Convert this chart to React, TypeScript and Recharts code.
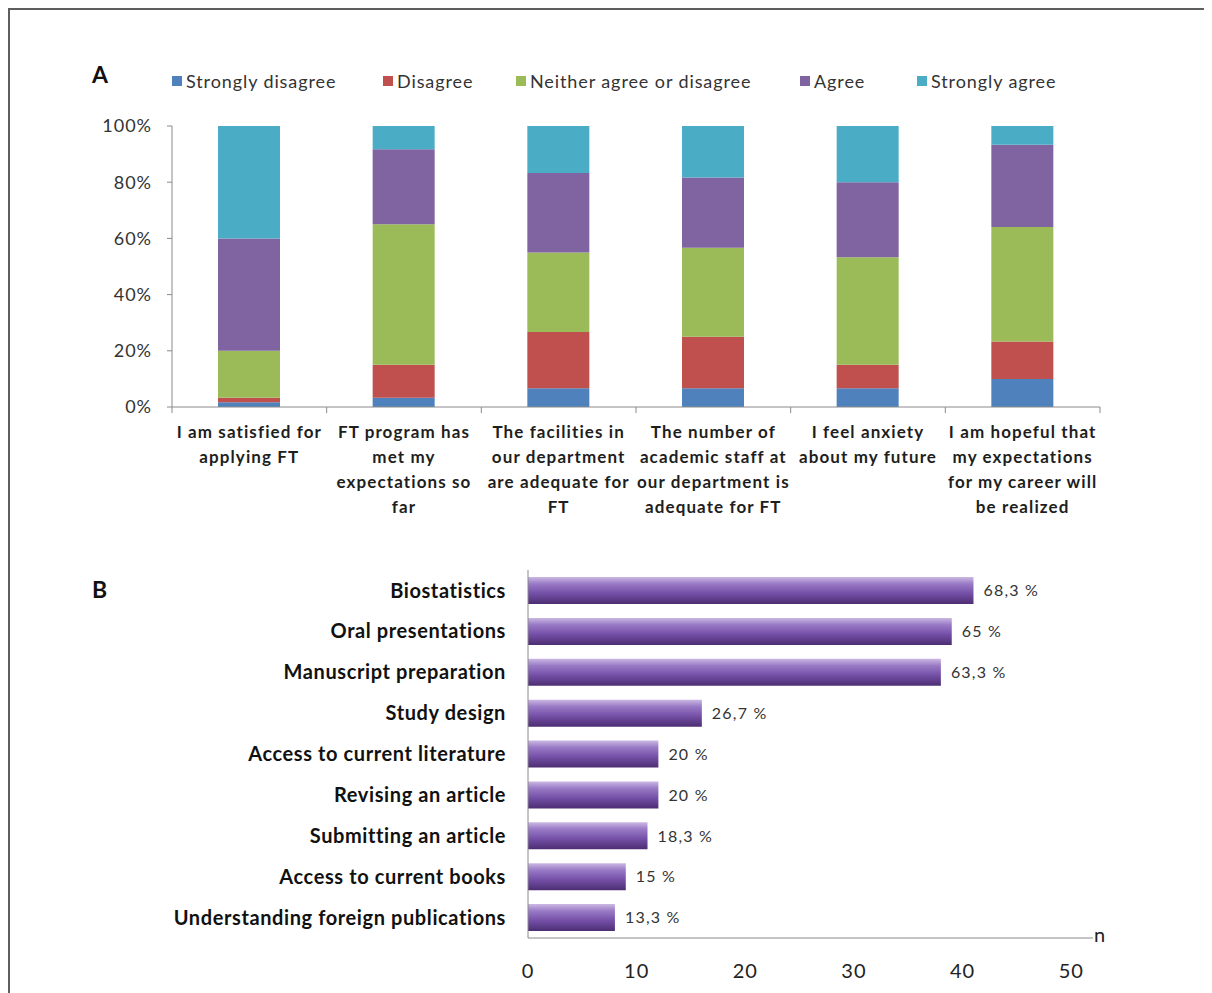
import {
  BarChart,
  Bar,
  XAxis,
  YAxis,
  LabelList,
} from "recharts";

// ---- panel A: Likert responses (% of respondents) ----
const statements = [
  "I am satisfied for\napplying FT",
  "FT program has\nmet my\nexpectations so\nfar",
  "The facilities in\nour department\nare adequate for\nFT",
  "The number of\nacademic staff at\nour department is\nadequate for FT",
  "I feel anxiety\nabout my future",
  "I am hopeful that\nmy expectations\nfor my career will\nbe realized",
];
const stronglyDisagree = [1.7, 3.3, 6.7, 6.7, 6.7, 10];
const disagree = [1.6, 11.7, 20, 18.3, 8.3, 13.3];
const neither = [16.7, 50, 28.3, 31.7, 38.3, 40.8];
const agree = [40, 26.7, 28.3, 25, 26.7, 29.2];
const stronglyAgree = [40, 8.3, 16.7, 18.3, 20, 6.7];
const percentTicks = [0, 20, 40, 60, 80, 100];

const SERIES = [
  { key: "sd", name: "Strongly disagree", values: stronglyDisagree, color: "#4f81bd" },
  { key: "d", name: "Disagree", values: disagree, color: "#c0504d" },
  { key: "n", name: "Neither agree or disagree", values: neither, color: "#9bbb59" },
  { key: "a", name: "Agree", values: agree, color: "#8064a2" },
  { key: "sa", name: "Strongly agree", values: stronglyAgree, color: "#4bacc6" },
];
// legend item widths (px) so the swatches land where the original's do
const LEGEND_WIDTHS = [211, 133, 284, 117, 160];

// ---- panel B: training needs (n, %) ----
const topics = [
  "Biostatistics",
  "Oral presentations",
  "Manuscript preparation",
  "Study design",
  "Access to current literature",
  "Revising an article",
  "Submitting an article",
  "Access to current books",
  "Understanding foreign publications",
];
const topicCounts = [41, 39, 38, 16, 12, 12, 11, 9, 8];
const topicPercents = ["68,3 %", "65 %", "63,3 %", "26,7 %", "20 %", "20 %", "18,3 %", "15 %", "13,3 %"];
const countTicks = [0, 10, 20, 30, 40, 50];

const FONT = "Lato, 'Open Sans', sans-serif";
const AXIS = "#8a8a8a";
const BAND_A = 928 / statements.length;

const likertData = statements.map((label, i) => {
  const row: Record<string, string | number> = { label };
  SERIES.forEach((s) => (row[s.key] = s.values[i]));
  return row;
});

const topicData = topics.map((topic, i) => ({
  topic,
  count: topicCounts[i],
  pct: topicPercents[i],
}));

type TickProps = { x?: number; y?: number; index?: number; payload?: { value: string } };

const StatementTick = ({ x = 0, y = 0, index = 0, payload }: TickProps) => {
  const lines = String(payload?.value ?? "").split("\n");
  return (
    <g>
      {index === 0 && (
        <line x1={x - BAND_A / 2} x2={x - BAND_A / 2} y1={y} y2={y + 6} stroke={AXIS} />
      )}
      <line x1={x + BAND_A / 2} x2={x + BAND_A / 2} y1={y} y2={y + 6} stroke={AXIS} />
      {lines.map((line, i) => (
        <text
          key={i}
          x={x}
          y={y + 24 + i * 25}
          textAnchor="middle"
          dominantBaseline="central"
          fontSize={17}
          fontWeight={700}
          letterSpacing={1.1}
          fill="#1e1e1e"
          fontFamily={FONT}
        >
          {line}
        </text>
      ))}
    </g>
  );
};

export default function App() {
  return (
    <div
      style={{
        position: "relative",
        width: 1204,
        height: 985,
        borderTop: "2px solid #5e5e5e",
        borderLeft: "2px solid #5e5e5e",
        boxSizing: "border-box",
        background: "#fff",
        fontFamily: FONT,
      }}
    >
      <div style={{ position: "absolute", left: 82, top: 50, fontSize: 23, fontWeight: 700, color: "#111" }}>A</div>
      <div style={{ position: "absolute", left: 82, top: 565, fontSize: 23, fontWeight: 700, color: "#111" }}>B</div>

      {/* legend for panel A */}
      <div
        style={{
          position: "absolute",
          left: 162,
          top: 60,
          display: "flex",
          alignItems: "center",
          fontSize: 18,
          letterSpacing: 0.9,
          color: "#333",
        }}
      >
        {SERIES.map((s, i) => (
          <div key={s.key} style={{ display: "flex", alignItems: "center", width: LEGEND_WIDTHS[i] }}>
            <span style={{ width: 10, height: 10, background: s.color, marginRight: 4, display: "inline-block" }} />
            <span>{s.name}</span>
          </div>
        ))}
      </div>

      <div style={{ position: "absolute", left: 0, top: 0 }}>
        <BarChart
          width={1150}
          height={540}
          data={likertData}
          margin={{ top: 116, right: 60, bottom: 23, left: 102 }}
          barSize={62}
        >
          <XAxis
            dataKey="label"
            interval={0}
            height={120}
            tickSize={0}
            tickMargin={0}
            tickLine={false}
            axisLine={{ stroke: AXIS }}
            tick={<StatementTick />}
          />
          <YAxis
            width={60}
            domain={[0, 100]}
            ticks={percentTicks}
            tickFormatter={(v: number) => `${v}%`}
            tickSize={5}
            tickMargin={15}
            axisLine={{ stroke: AXIS }}
            tickLine={{ stroke: AXIS }}
            tick={{ fontSize: 18, fill: "#333", fontFamily: FONT, letterSpacing: 1 }}
          />
          {SERIES.map((s) => (
            <Bar
              key={s.key}
              dataKey={s.key}
              name={s.name}
              stackId="likert"
              fill={s.color}
              isAnimationActive={false}
            />
          ))}
        </BarChart>
      </div>

      <div style={{ position: "absolute", left: 0, top: 550 }}>
        <BarChart
          width={1150}
          height={430}
          data={topicData}
          layout="vertical"
          margin={{ top: 10, right: 67, bottom: 2, left: 138 }}
          barSize={27}
        >
          <defs>
            <linearGradient id="tube" x1="0" y1="0" x2="0" y2="1">
              <stop offset="0%" stopColor="#cbb8e3" />
              <stop offset="25%" stopColor="#9a7bc6" />
              <stop offset="60%" stopColor="#7550a8" />
              <stop offset="100%" stopColor="#4c2e72" />
            </linearGradient>
          </defs>
          <XAxis
            type="number"
            domain={[0, 52]}
            ticks={countTicks}
            height={50}
            tickSize={0}
            tickMargin={26}
            tickLine={false}
            axisLine={{ stroke: AXIS }}
            tick={{ fontSize: 20, fill: "#222", fontFamily: FONT, letterSpacing: 1 }}
          />
          <YAxis
            type="category"
            dataKey="topic"
            width={380}
            interval={0}
            tickSize={0}
            tickMargin={22}
            tickLine={false}
            axisLine={{ stroke: AXIS }}
            tick={{ fontSize: 20, fill: "#111", fontFamily: FONT, fontWeight: 700, letterSpacing: 0.6 }}
          />
          <Bar dataKey="count" fill="url(#tube)" isAnimationActive={false}>
            <LabelList
              dataKey="pct"
              position="right"
              offset={10}
              style={{ fontSize: 16, fill: "#333", fontFamily: FONT, letterSpacing: 1.2 }}
            />
          </Bar>
        </BarChart>
      </div>

      <div style={{ position: "absolute", left: 1084, top: 912, fontSize: 20, color: "#222" }}>n</div>
    </div>
  );
}
